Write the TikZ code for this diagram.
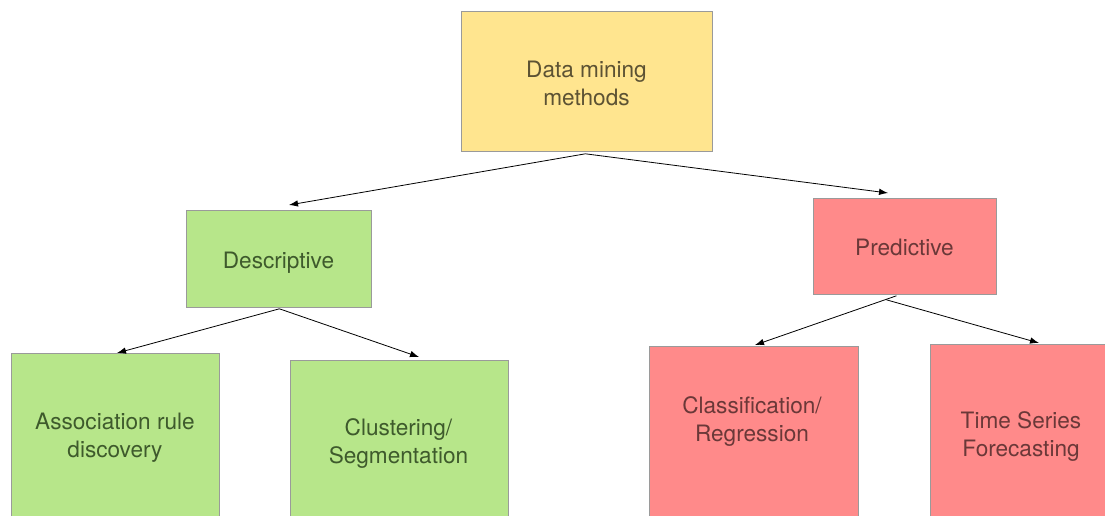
\documentclass[tikz,border=0pt]{standalone}
\usepackage{fontspec}
\setmainfont{TeX Gyre Heros}
\usetikzlibrary{arrows.meta,calc}

\definecolor{rootfill}{HTML}{FFE58F}
\definecolor{descfill}{HTML}{B7E68A}
\definecolor{predfill}{HTML}{FF8A8A}
\definecolor{edgegray}{HTML}{9A9A9A}
\definecolor{roottext}{HTML}{5C5233}
\definecolor{desctext}{HTML}{3E5A2C}
\definecolor{predtext}{HTML}{6A3838}

\tikzset{
  box/.style={draw=edgegray, line width=0.8pt, rectangle, inner sep=0pt, anchor=north west},
  lbl/.style={align=center, font=\fontsize{22.6}{28}\selectfont},
  link/.style={draw=black, line width=0.8pt, -{Latex[length=9pt,width=6.5pt]}}
}

\begin{document}
\begin{tikzpicture}[x=1pt, y=-1pt]
\useasboundingbox (0,0) rectangle (1105,516);
\clip (0,0) rectangle (1105,516);

% top level
\node[box, fill=rootfill, minimum width=251pt, minimum height=140pt] (root) at (461,11) {};

% second level
\node[box, fill=descfill, minimum width=185pt, minimum height=97pt] (desc) at (186,210) {};
\node[box, fill=predfill, minimum width=183pt, minimum height=96pt] (pred) at (813,198) {};

% third level (boxes run past the lower edge)
\node[box, fill=descfill, minimum width=208pt, minimum height=200pt] (assoc) at (11,353) {};
\node[box, fill=descfill, minimum width=218pt, minimum height=200pt] (clust) at (290,360) {};
\node[box, fill=predfill, minimum width=209pt, minimum height=200pt] (class) at (649,346) {};
\node[box, fill=predfill, minimum width=200pt, minimum height=200pt] (tseries) at (930,344) {};

% labels
\node[lbl, text=roottext] (rootlbl) at (586.5,83) {Data mining\\methods};
\node[lbl, text=desctext] (desclbl) at (278.5,263) {Descriptive};
\node[lbl, text=predtext] (predlbl) at (904.5,247) {Predictive};
\node[lbl, text=desctext] (assoclbl) at (115,437.5) {Association rule\\discovery};
\node[lbl, text=desctext] (clustlbl) at (398.5,443.5) {Clustering/\\Segmentation};
\node[lbl, text=predtext] (classlbl) at (752,421.5) {Classification/\\Regression};
\node[lbl, text=predtext] (tserieslbl) at (1021,436.5) {Time Series\\Forecasting};

% connectors
\draw[link] ($(root.south)+(-1.5,2)$) -- ($(desc.north west)+(103,-5)$);
\draw[link] ($(root.south)+(-1.5,2)$) -- ($(pred.north west)+(75,-5)$);
\draw[link] ($(desc.south)+(0.5,1)$) -- ($(assoc.north west)+(106,0)$);
\draw[link] ($(desc.south)+(0.5,1)$) -- ($(clust.north west)+(129,-3)$);
\draw[link] ($(pred.south)+(-8.5,1)$) -- ($(class.north west)+(106,-1)$);
\draw[link] ($(pred.south)+(-18.5,5)$) -- ($(tseries.north west)+(109,-1)$);
\end{tikzpicture}
\end{document}
